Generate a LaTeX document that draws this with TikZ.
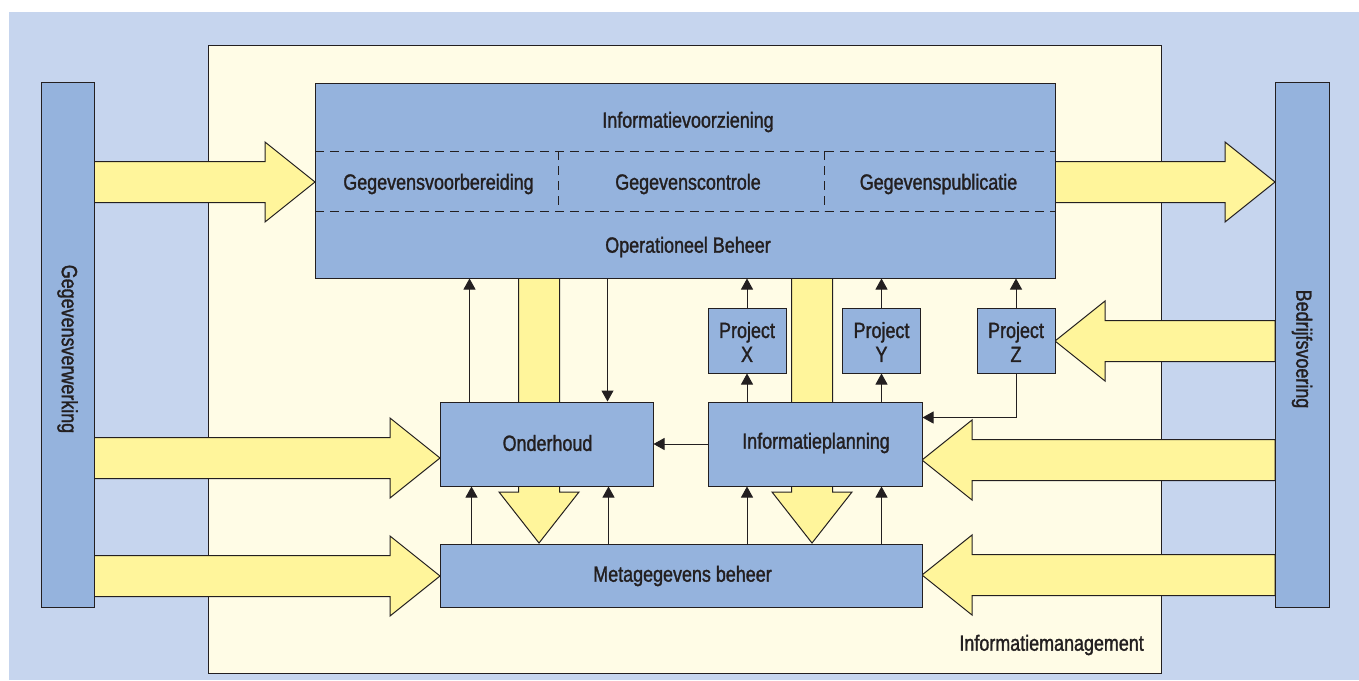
\documentclass[tikz,border=0pt]{standalone}
\usepackage{fontspec}
\setmainfont{Liberation Sans}[FakeStretch=0.815, FakeBold=1.4]
\usetikzlibrary{arrows.meta}

\definecolor{bgblue}{RGB}{198,213,238}
\definecolor{cream}{RGB}{255,252,230}
\definecolor{boxblue}{RGB}{149,179,221}
\definecolor{yel}{RGB}{255,245,155}
\definecolor{linec}{RGB}{35,31,32}

\tikzset{
  box/.style={draw=linec, fill=boxblue, line width=1pt, inner sep=0pt},
  flow/.style={draw=linec, fill=yel, line width=1pt},
  conn/.style={draw=linec, line width=1pt, -{Triangle[length=11pt,width=12pt]}},
  lbl/.style={text=linec, inner sep=0pt, align=center},
}

\begin{document}
\begin{tikzpicture}[x=1pt, y=-1pt, font=\fontsize{22}{24}\selectfont]
    \useasboundingbox (0,0) rectangle (1359,680);
    \fill[bgblue] (9,12) rectangle (1359,680);
    \draw[fill=cream, draw=linec, line width=1pt] (208,45) rectangle (1161,673);

    % yellow flows, behind the boxes
    \foreach \xs/\xt/\yc in {94/315/182, 94/440/458, 94/440/576, 1055/1275/182}
        \draw[flow] (\xs,\yc-20.5) -- (\xt-50,\yc-20.5) -- (\xt-50,\yc-40) -- (\xt,\yc)
            -- (\xt-50,\yc+40) -- (\xt-50,\yc+20.5) -- (\xs,\yc+20.5) -- cycle;
    \foreach \xs/\xt/\yc in {1275/1055/341, 1275/922/460, 1275/922/575}
        \draw[flow] (\xs,\yc-20.5) -- (\xt+50,\yc-20.5) -- (\xt+50,\yc-40) -- (\xt,\yc)
            -- (\xt+50,\yc+40) -- (\xt+50,\yc+20.5) -- (\xs,\yc+20.5) -- cycle;
    \foreach \xc in {539,812}
        \draw[flow] (\xc-20.5,278) -- (\xc-20.5,492) -- (\xc-40,492) -- (\xc,543)
            -- (\xc+40,492) -- (\xc+20.5,492) -- (\xc+20.5,278) -- cycle;

    % side bars
    \node[box, minimum width=53, minimum height=525] (verw) at (67.5,344.5) {};
    \node[lbl, rotate=-90] (verwtxt) at (67.5,349) {Gegevensverwerking};
    \node[box, minimum width=54, minimum height=525] (bedr) at (1302,344.5) {};
    \node[lbl, rotate=-90] (bedrtxt) at (1302,349) {Bedrijfsvoering};

    % informatievoorziening
    \node[box, minimum width=740, minimum height=195] (iv) at (685,180.5) {};
    \draw[linec, line width=1pt, dash pattern=on 9pt off 6pt] (315,151) -- (1055,151);
    \draw[linec, line width=1pt, dash pattern=on 9pt off 6pt] (315,211) -- (1055,211);
    \draw[linec, line width=1pt, dash pattern=on 9pt off 6pt] (558,151) -- (558,211);
    \draw[linec, line width=1pt, dash pattern=on 9pt off 6pt] (824,151) -- (824,211);
    \node[lbl] (ivtxt) at (688,122) {Informatievoorziening};
    \node[lbl] (gvb) at (438.5,184) {Gegevensvoorbereiding};
    \node[lbl] (gvc) at (688,184) {Gegevenscontrole};
    \node[lbl] (gvp) at (938.5,184) {Gegevenspublicatie};
    \node[lbl] (ob) at (688,247) {Operationeel Beheer};

    % beheer
    \node[box, minimum width=213, minimum height=84] (ond) at (546.5,444) {};
    \node[lbl] (ondtxt) at (547.5,443) {Onderhoud};
    \node[box, minimum width=214, minimum height=84] (ip) at (815,444) {};
    \node[lbl] (iptxt) at (816,443) {Informatieplanning};
    \node[box, minimum width=482, minimum height=63] (meta) at (681,575.5) {};
    \node[lbl] (metatxt) at (682.5,576) {Metagegevens beheer};

    % projecten
    \node[box, minimum width=78, minimum height=65] (px) at (747,340.5) {};
    \node[lbl] (pxtxt) at (747,342) {Project\\X};
    \node[box, minimum width=78, minimum height=65] (py) at (881.5,340.5) {};
    \node[lbl] (pytxt) at (881.5,342) {Project\\Y};
    \node[box, minimum width=78, minimum height=65] (pz) at (1016,340.5) {};
    \node[lbl] (pztxt) at (1016,342) {Project\\Z};

    \node[lbl, anchor=east] (imtxt) at (1144,645) {Informatiemanagement};

    % verbindingen
    \draw[conn] ([xshift=30pt]ond.north west) -- ([xshift=30pt]ond.north west |- iv.south);
    \draw[conn] ([xshift=-46pt]ond.north east |- iv.south) -- ([xshift=-46pt]ond.north east);
    \draw[conn] (ip.west |- ond.east) -- (ond.east);
    \draw[conn] (px.north) -- (px.north |- iv.south);
    \draw[conn] (py.north) -- (py.north |- iv.south);
    \draw[conn] (pz.north) -- (pz.north |- iv.south);
    \draw[conn] (ip.north -| px.south) -- (px.south);
    \draw[conn] (ip.north -| py.south) -- (py.south);
    \draw[conn] (pz.south) |- ([yshift=-16pt]ip.north east);
    \draw[conn] ([xshift=32pt]meta.north west) -- ([xshift=32pt]ond.south west);
    \draw[conn] ([xshift=-45pt]ond.south east |- meta.north) -- ([xshift=-45pt]ond.south east);
    \draw[conn] (meta.north -| px.south) -- (ip.south -| px.south);
    \draw[conn] (meta.north -| py.south) -- (ip.south -| py.south);
\end{tikzpicture}
\end{document}
